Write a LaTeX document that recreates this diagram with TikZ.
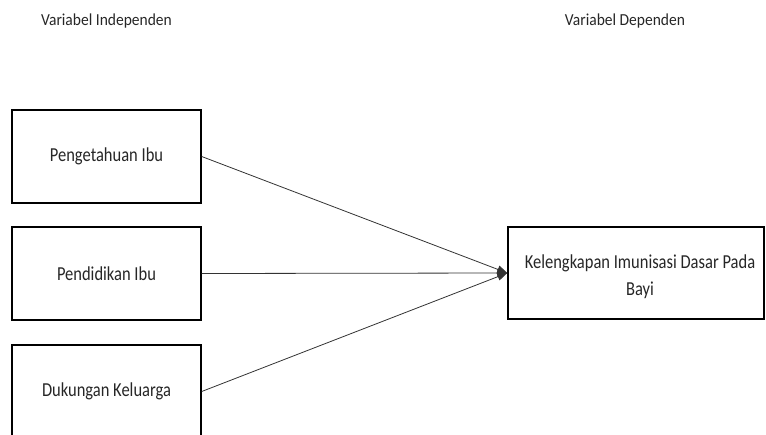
\documentclass[tikz,border=0pt]{standalone}
\usepackage{fontspec}
\setmainfont{Carlito}
\usetikzlibrary{arrows.meta}
\newcommand\tallt[1]{\scalebox{1}[1.2]{#1}}
\begin{document}
\begin{tikzpicture}[x=1pt,y=-1pt,
  varbox/.style={draw=black,line width=1.4pt,inner sep=0pt,font=\fontsize{16.5}{20}\selectfont,text=black!85},
  heading/.style={font=\fontsize{16}{19}\selectfont,text=black!85,inner sep=0pt,anchor=base},
  link/.style={draw=black!80,line width=0.8pt},
  arr/.style={-{Triangle[length=10pt,width=8pt]}}]
\useasboundingbox (0,0) rectangle (766,434);
\begin{scope}
\clip (0,0) rectangle (766,434);
\node[heading] (hi) at (106.5,25.7) {\scalebox{0.97}[1.05]{Variabel Independen}};
\node[heading] (hd) at (625,25.7) {\scalebox{0.97}[1.05]{Variabel Dependen}};
\node[varbox,minimum width=189pt,minimum height=93pt] (p) at (106.5,156.5) {\tallt{Pengetahuan Ibu}};
\node[varbox,minimum width=189pt,minimum height=93pt] (e) at (106.5,273.5) {\tallt{Pendidikan Ibu}};
\node[varbox,minimum width=189pt,minimum height=93pt] (k) at (106.5,391.5) {\tallt{Dukungan Keluarga}};
\node[varbox,minimum width=256pt,minimum height=92pt] (y) at (636,273) {};
\node[font=\fontsize{16.5}{22.5}\selectfont,text=black!85,inner sep=0pt,anchor=base] (yt) at (640,268) {\tallt{\renewcommand\arraystretch{1}\begin{tabular}[t]{@{}c@{}}Kelengkapan Imunisasi Dasar Pada\\Bayi\end{tabular}}};
\coordinate (t) at (y.west);
\draw[link,arr] (p.east) -- (t);
\draw[link,arr] (e.east) -- (t);
\draw[link,arr] (k.east) -- (t);
\end{scope}
\end{tikzpicture}
\end{document}
